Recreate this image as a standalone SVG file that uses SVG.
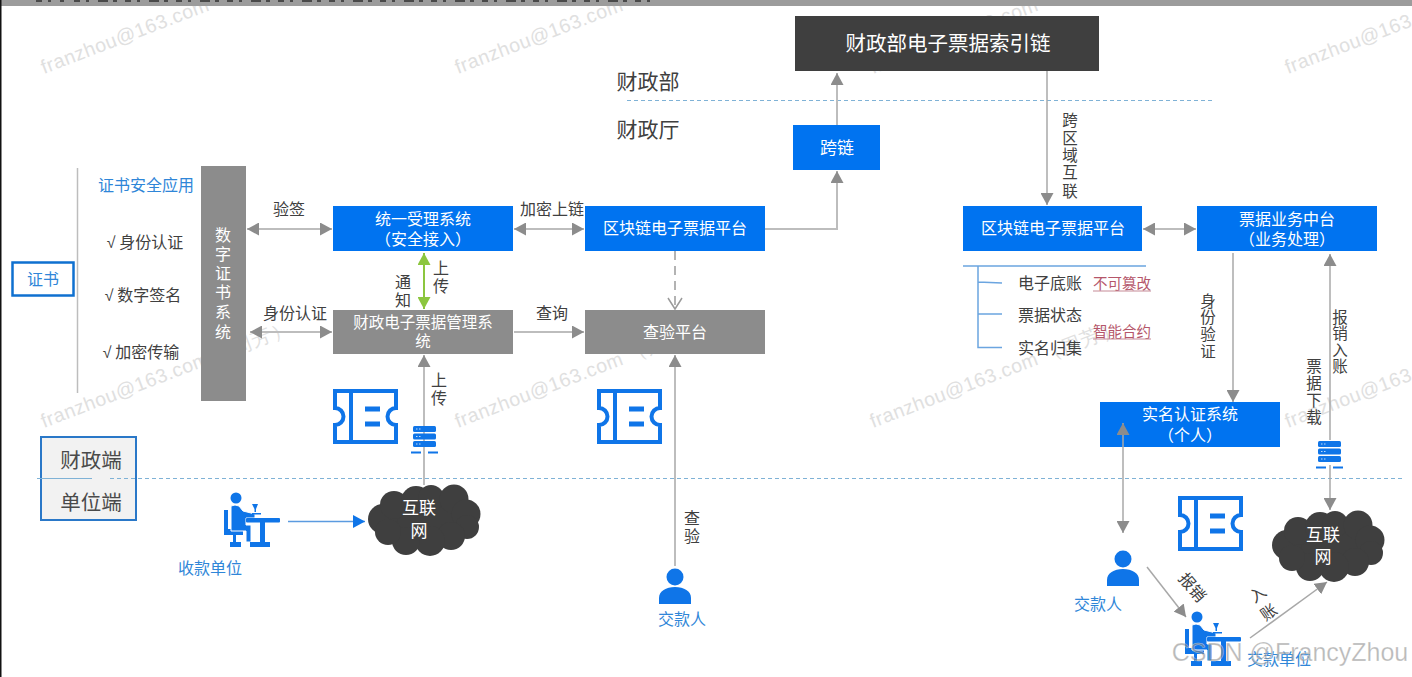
<svg xmlns="http://www.w3.org/2000/svg" width="1412" height="677" viewBox="0 0 1412 677">
<style>
text{font-family:"Noto Sans CJK SC","Liberation Sans",sans-serif;text-anchor:middle;fill:#404040}
.w{fill:#fff;font-size:16px}
.w17{fill:#fff;font-size:17px}
.d{font-size:16px;fill:#404040}
.v{font-size:15.500px;fill:#404040}
.b{font-size:16px;fill:#2f86d8}
.r{font-size:14.500px;fill:#b5566a}
.big{font-size:20.500px;fill:#4a4a4a}
.wm{font-family:"Liberation Sans",sans-serif;font-size:19.500px;fill:#e0e0e0;text-anchor:start;letter-spacing:.5px}
.blue{fill:#0073f0}
.grey{fill:#8c8c8c}
.ln{stroke:#bdbdbd;stroke-width:2;fill:none}
.ln1{stroke:#a8a8a8;stroke-width:1.500;fill:none}
.dash{stroke:#7fb2d6;stroke-width:1;stroke-dasharray:4 3;fill:none}
.tree{stroke:#6ba5e0;stroke-width:1.500;fill:none}
.ck{font-family:"Liberation Sans",sans-serif}
</style>
<defs>
<marker id="h" markerUnits="userSpaceOnUse" markerWidth="13" markerHeight="13" refX="12" refY="6.500" orient="auto-start-reverse"><path d="M0 0L12 6.500L0 13Z" fill="#8c8c8c"/></marker>
<marker id="g" markerUnits="userSpaceOnUse" markerWidth="13" markerHeight="13" refX="12" refY="6.500" orient="auto-start-reverse"><path d="M0 0L12 6.500L0 13Z" fill="#8cc63f"/></marker>
<marker id="bl" markerUnits="userSpaceOnUse" markerWidth="13" markerHeight="13" refX="12" refY="6.500" orient="auto"><path d="M0 0L12 6.500L0 13Z" fill="#0f75e8"/></marker>
<marker id="o" markerUnits="userSpaceOnUse" markerWidth="14" markerHeight="16" refX="12" refY="8" orient="auto"><path d="M1 1L12 8L1 15" fill="none" stroke="#9a9a9a" stroke-width="1.500"/></marker>
<symbol id="ticket" viewBox="0 0 65 55" overflow="visible"><path d="M2 2H63V19A8 8 0 0 0 63 36V53H2V36A8 8 0 0 0 2 19Z" fill="#fff" stroke="#0f75e8" stroke-width="4"/><path d="M18 2V53" stroke="#0f75e8" stroke-width="4"/><path d="M32 20H47M32 35H47" stroke="#0f75e8" stroke-width="5"/></symbol>
<symbol id="server" viewBox="0 0 27 29"><g fill="#0f75e8"><rect x="2" y="0" width="23" height="6" rx="1.500"/><rect x="2" y="7.500" width="23" height="6" rx="1.500"/><rect x="2" y="15" width="23" height="6" rx="1.500"/><rect x="0" y="25.500" width="10" height="2"/><rect x="17" y="25.500" width="10" height="2"/></g><path d="M5 3h6M5 10.500h6M5 18h6" stroke="#bcd9f8" stroke-dasharray="1.500 1.500"/></symbol>
<symbol id="cloud" viewBox="0 0 115 72"><g fill="#3f3f3f"><ellipse cx="57" cy="36" rx="45" ry="26"/><circle cx="17" cy="35" r="15"/><circle cx="28" cy="21" r="14"/><circle cx="50" cy="17" r="15"/><circle cx="65" cy="14" r="13"/><circle cx="88" cy="15" r="14.500"/><circle cx="100" cy="30" r="14.500"/><circle cx="101" cy="43" r="12"/><circle cx="85" cy="52" r="14"/><circle cx="64" cy="57" r="15"/><circle cx="40" cy="57" r="14"/><circle cx="22" cy="48" r="13"/></g></symbol>
<symbol id="desk" viewBox="0 0 56 56"><g fill="#0f75e8"><circle cx="12" cy="6" r="5.500"/><path d="M0 18H4V37H19V43H12V50H17V55H6V50H9V43H0Z"/><path d="M7 14Q11 12 15 14L19 19L31 22V26H22V33H27V50H22V39H7Z" stroke="#fff" stroke-width="1"/><rect x="22" y="26" width="34" height="4.500" rx="1"/><rect x="36" y="30" width="5" height="21"/><rect x="26" y="50" width="20" height="5"/><path d="M28 12h6l-2 5v3h-1.500v-3Z"/><rect x="28" y="21" width="9" height="1.500"/></g></symbol>
<symbol id="person" viewBox="0 0 32 36"><g fill="#0f75e8"><circle cx="16" cy="9" r="8.500"/><path d="M0 36V30C0 23 7 19 16 19S32 23 32 30V36Z"/></g></symbol>
</defs>
<rect width="1412" height="677" fill="#fff"/>
<g id="watermarks">
<text class="wm" transform="translate(44 74) rotate(-21)">franzhou@163.com</text>
<text class="wm" transform="translate(458 74) rotate(-21)">franzhou@163.com</text>
<text class="wm" transform="translate(873 74) rotate(-21)">franzhou@163.com</text>
<text class="wm" transform="translate(1288 74) rotate(-21)">franzhou@163.com</text>
<text class="wm" transform="translate(44 428) rotate(-21)">franzhou@163.com （周芳）</text>
<text class="wm" transform="translate(458 428) rotate(-21)">franzhou@163.com （周芳）</text>
<text class="wm" transform="translate(873 428) rotate(-21)">franzhou@163.com （周芳）</text>
<text class="wm" transform="translate(1288 428) rotate(-21)">franzhou@163.com</text>
</g>
<rect id="topbar" x="0" y="0" width="1412" height="6" fill="#9c9c9c"/>
<path d="M36 1H64M74 1H650" stroke="#4a4a4a" stroke-width="2" stroke-dasharray="6 6 3 9 10 5 4 8" fill="none"/>
<rect x="0" y="0" width="1.500" height="677" fill="#111"/>
<g id="connectors">
<path class="dash" d="M627 100.500H1212"/>
<path class="dash" d="M110 478.500H1403"/>
<path class="ln" style="stroke-width:1.500" d="M77.500 168V393"/>
<path class="ln" d="M247 229H332" marker-start="url(#h)" marker-end="url(#h)"/>
<path class="ln" d="M250 332H332" marker-start="url(#h)" marker-end="url(#h)"/>
<path class="ln" d="M514 229H584" marker-start="url(#h)" marker-end="url(#h)"/>
<path d="M424 253V309" stroke="#8cc63f" stroke-width="2" marker-start="url(#g)" marker-end="url(#g)"/>
<path class="ln" d="M514 332H584" marker-end="url(#h)"/>
<path d="M675 251V309" stroke="#9a9a9a" stroke-width="1.500" stroke-dasharray="9 6" fill="none" marker-end="url(#o)"/>
<path class="ln" d="M765 229H837V171" marker-end="url(#h)"/>
<path class="ln" d="M837 140V73" marker-end="url(#h)"/>
<path class="ln1" d="M1047 71V205" marker-end="url(#h)"/>
<path class="ln" d="M1143 229H1196" marker-start="url(#h)" marker-end="url(#h)"/>
<path class="ln1" d="M1233 253V402" marker-end="url(#h)"/>
<path class="ln1" d="M1330 440V254" marker-end="url(#h)"/>
<path class="ln1" d="M1330 465V510" marker-end="url(#h)"/>
<path class="ln" d="M424 485V355" marker-end="url(#h)"/>
<path class="ln" d="M675 566V355" marker-end="url(#h)"/>
<path d="M288 521.500H365" stroke="#5b9be0" stroke-width="1.500" marker-end="url(#bl)"/>
<path class="ln1" d="M1123 447V533" marker-end="url(#h)"/>
<path class="ln1" d="M1147 567L1186 617" marker-end="url(#h)"/>
<path class="ln1" d="M1250 638L1327 582" marker-end="url(#h)"/>
</g>
<g id="cert-box"><rect x="12.500" y="262.500" width="61" height="33" fill="#fff" stroke="#0f70d0" stroke-width="2.500"/><text x="43" y="285" class="b">证书</text></g>
<g id="cert-apps">
<text class="b" x="146" y="191">证书安全应用</text>
<text class="d" x="145" y="248"><tspan class="ck">√</tspan> 身份认证</text>
<text class="d" x="143" y="301"><tspan class="ck">√</tspan> 数字签名</text>
<text class="d" x="141" y="358"><tspan class="ck">√</tspan> 加密传输</text>
</g>
<g id="cert-system"><rect class="grey" x="201" y="166" width="45" height="235"/>
<text class="w" x="223" y="241">数</text><text class="w" x="223" y="260">字</text><text class="w" x="223" y="279">证</text><text class="w" x="223" y="298">书</text><text class="w" x="223" y="318">系</text><text class="w" x="223" y="338">统</text></g>
<g id="unified"><rect class="blue" x="333" y="206" width="180" height="45"/><text class="w" x="423" y="225">统一受理系统</text><text class="w" x="423" y="245">（安全接入）</text></g>
<g id="mgmt"><rect class="grey" x="333" y="310" width="180" height="44"/><text class="w" x="423" y="328" style="font-size:15.500px">财政电子票据管理系</text><text class="w" x="423" y="347" style="font-size:15.500px">统</text></g>
<g id="chain-left"><rect class="blue" x="585" y="206" width="180" height="45"/><text class="w" x="675" y="234">区块链电子票据平台</text></g>
<g id="verify"><rect class="grey" x="585" y="310" width="180" height="44"/><text class="w" x="675" y="338">查验平台</text></g>
<g id="mof"><rect x="795" y="16" width="304" height="55" fill="#3f3f3f"/><text x="948" y="51" style="font-size:20.500px;fill:#fff">财政部电子票据索引链</text></g>
<g id="cross"><rect class="blue" x="793" y="125" width="87" height="45"/><text class="w17" x="837" y="154">跨链</text></g>
<g id="chain-right"><rect class="blue" x="963" y="206" width="179" height="45"/><text class="w" x="1053" y="234">区块链电子票据平台</text></g>
<g id="biz"><rect class="blue" x="1197" y="206" width="180" height="45"/><text class="w" x="1287" y="225">票据业务中台</text><text class="w" x="1287" y="245">（业务处理）</text></g>
<g id="realname"><rect class="blue" x="1100" y="402" width="180" height="45"/><text class="w" x="1190" y="420">实名认证系统</text><text class="w" x="1190" y="441">（个人）</text></g>
<path d="M1123 447V423" stroke="#a8a8a8" stroke-width="1.500" marker-end="url(#h)"/>
<g id="scope-left"><rect x="41" y="437" width="95" height="83" fill="#f2f2f2" stroke="#2a78c8" stroke-width="2"/><path d="M37 478.500H92" stroke="#7fb2d6"/><path class="dash" d="M110 478.500H136"/><text class="big" x="91" y="468">财政端</text><text class="big" x="91" y="510">单位端</text></g>
<g id="scope-top"><text x="648" y="89" style="font-size:21px">财政部</text><text x="648" y="137" style="font-size:21px">财政厅</text></g>
<g id="labels">
<text class="d" x="289" y="215">验签</text>
<text class="d" x="295" y="319">身份认证</text>
<text class="d" x="552" y="215">加密上链</text>
<text class="d" x="552" y="319">查询</text>
<text class="d" x="441" y="274">上</text><text class="d" x="441" y="292">传</text>
<text class="d" x="403" y="288">通</text><text class="d" x="403" y="306">知</text>
<text class="d" x="439" y="386">上</text><text class="d" x="439" y="404">传</text>
<text class="d" x="692" y="524">查</text><text class="d" x="692" y="542">验</text>
<text class="v" x="1070" y="126">跨</text><text class="v" x="1070" y="144">区</text><text class="v" x="1070" y="161">域</text><text class="v" x="1070" y="178">互</text><text class="v" x="1070" y="197">联</text>
<text class="v" x="1208" y="307">身</text><text class="v" x="1208" y="323">份</text><text class="v" x="1208" y="340">验</text><text class="v" x="1208" y="357">证</text>
<text class="v" x="1340" y="323">报</text><text class="v" x="1340" y="339">销</text><text class="v" x="1340" y="356">入</text><text class="v" x="1340" y="372">账</text>
<text class="v" x="1314" y="372">票</text><text class="v" x="1314" y="389">据</text><text class="v" x="1314" y="406">下</text><text class="v" x="1314" y="423">载</text>
<text class="d" transform="translate(1188 591) rotate(50)">报销</text>
<text class="d" transform="translate(1261 599) rotate(-35)">入</text><text class="d" transform="translate(1272 617) rotate(-35)">账</text>
</g>
<g id="ledger">
<path class="tree" d="M963 266H1146M978 266V347.500H1002M978 282L1002 283M978 314H1002"/>
<text class="d" x="1050" y="289">电子底账</text>
<text class="d" x="1050" y="321">票据状态</text>
<text class="d" x="1050" y="354">实名归集</text>
<text class="r" x="1122" y="289">不可篡改</text><path d="M1093 291H1151" stroke="#c58a96"/>
<text class="r" x="1122" y="337">智能合约</text><path d="M1093 339H1151" stroke="#c58a96"/>
</g>
<use id="ticket-1" href="#ticket" x="333" y="389" width="65" height="55"/>
<use id="ticket-2" href="#ticket" x="597" y="389" width="65" height="55"/>
<use id="ticket-3" href="#ticket" x="1178" y="496" width="65" height="55"/>
<use id="server-1" href="#server" x="411" y="426" width="27" height="29"/>
<use id="server-2" href="#server" x="1316" y="441" width="27" height="29"/>
<g id="cloud-left"><use href="#cloud" x="366" y="484" width="115" height="72"/><text class="w17" x="419" y="514">互联</text><text class="w17" x="419" y="537">网</text></g>
<g id="cloud-right"><use href="#cloud" x="1270" y="510" width="115" height="72"/><text class="w17" x="1323" y="541">互联</text><text class="w17" x="1323" y="563">网</text></g>
<g id="payee"><use href="#desk" x="224" y="492" width="56" height="56"/><text class="b" x="210" y="574">收款单位</text></g>
<g id="payer-1"><use href="#person" x="659" y="568" width="32" height="36"/><text class="b" x="682" y="625">交款人</text></g>
<g id="payer-2"><use href="#person" x="1107" y="550" width="32" height="36"/><text class="b" x="1098" y="610">交款人</text></g>
<g id="payer-unit"><use href="#desk" x="1185" y="611" width="56" height="56"/><text class="b" x="1279" y="665">交款单位</text></g>
<text x="1290" y="661" style="font-family:'Liberation Sans',sans-serif;font-size:25px;fill:#8a8a8a;fill-opacity:.6;stroke:#fff;stroke-opacity:.5;stroke-width:.5">CSDN @FrancyZhou</text>
</svg>
